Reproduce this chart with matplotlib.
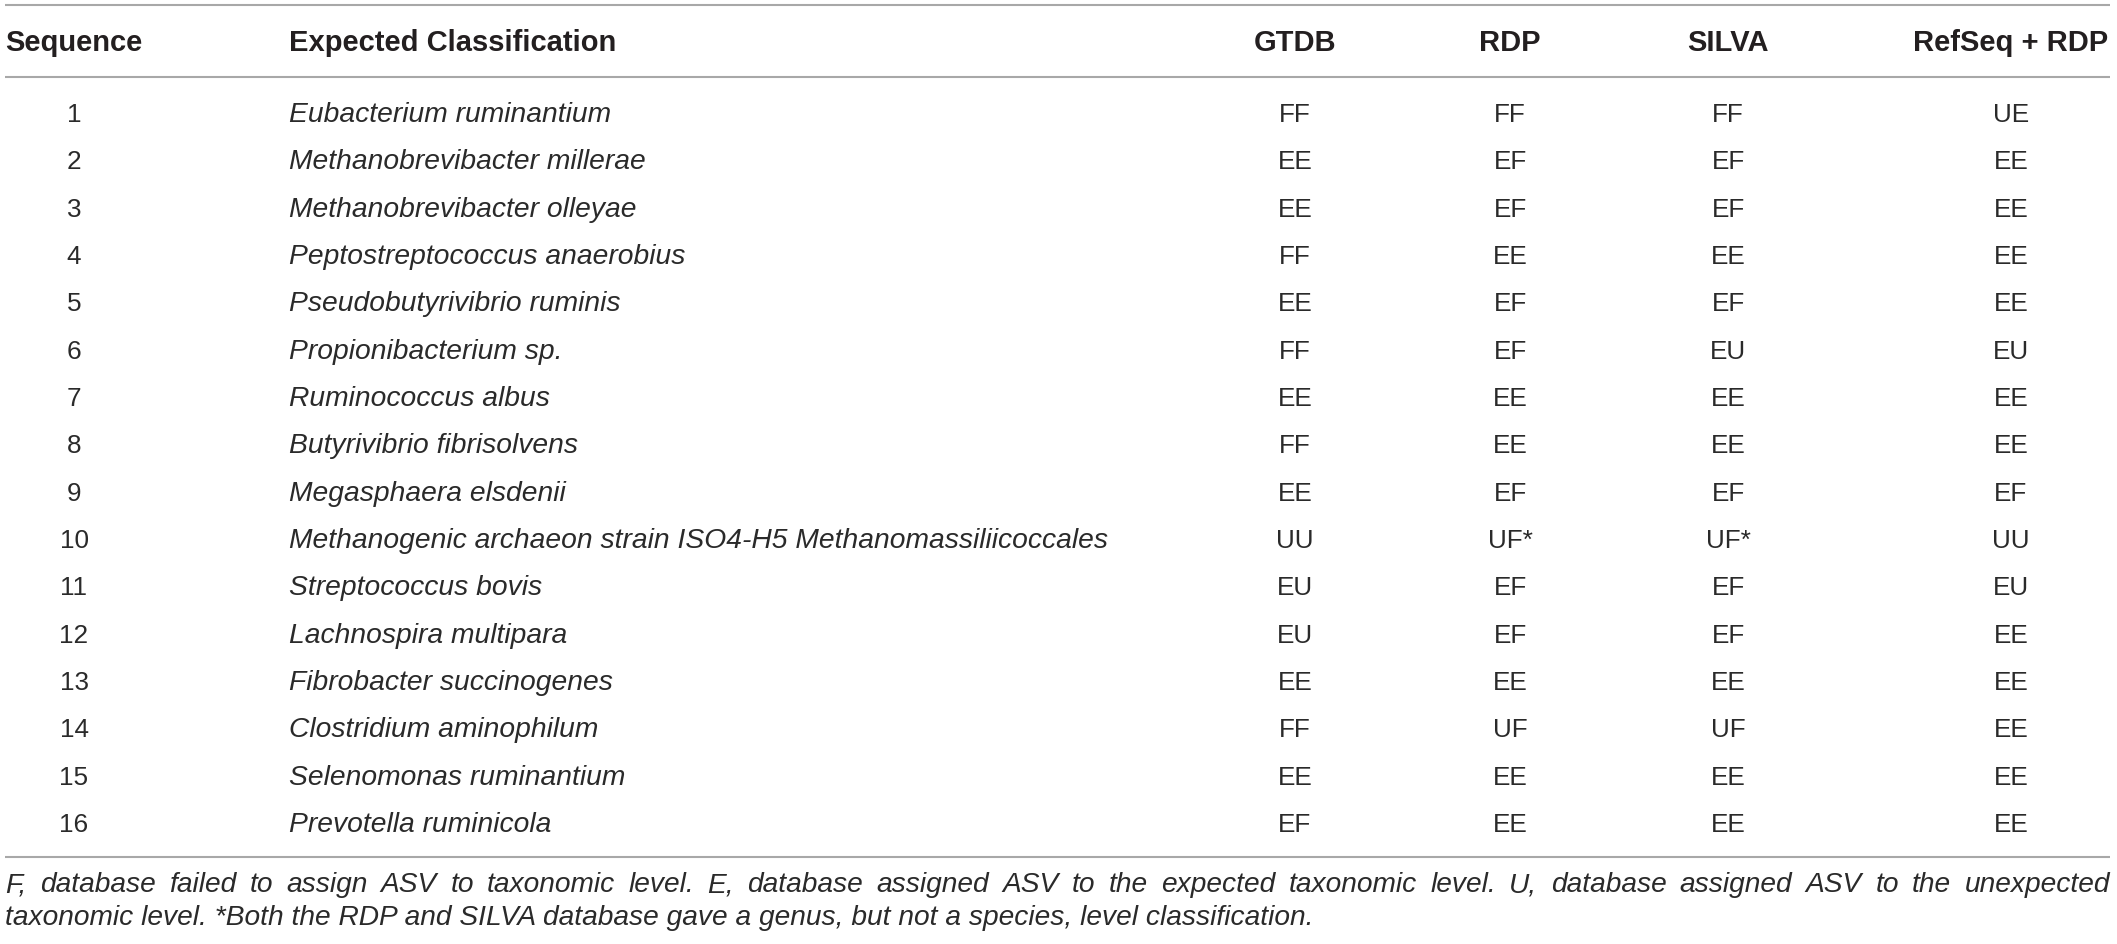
import matplotlib
matplotlib.use("Agg")
import matplotlib.pyplot as plt

# ---------------- data ----------------
columns = ["Sequence", "Expected Classification", "GTDB", "RDP", "SILVA", "RefSeq + RDP"]
sequence_ids = [str(i) for i in range(1, 17)]
expected = [
    "Eubacterium ruminantium",
    "Methanobrevibacter millerae",
    "Methanobrevibacter olleyae",
    "Peptostreptococcus anaerobius",
    "Pseudobutyrivibrio ruminis",
    "Propionibacterium sp.",
    "Ruminococcus albus",
    "Butyrivibrio fibrisolvens",
    "Megasphaera elsdenii",
    "Methanogenic archaeon strain ISO4-H5 Methanomassiliicoccales",
    "Streptococcus bovis",
    "Lachnospira multipara",
    "Fibrobacter succinogenes",
    "Clostridium aminophilum",
    "Selenomonas ruminantium",
    "Prevotella ruminicola",
]
gtdb = ["FF", "EE", "EE", "FF", "EE", "FF", "EE", "FF", "EE", "UU", "EU", "EU", "EE", "FF", "EE", "EF"]
rdp = ["FF", "EF", "EF", "EE", "EF", "EF", "EE", "EE", "EF", "UF*", "EF", "EF", "EE", "UF", "EE", "EE"]
silva = ["FF", "EF", "EF", "EE", "EF", "EU", "EE", "EE", "EF", "UF*", "EF", "EF", "EE", "UF", "EE", "EE"]
refseq_rdp = ["UE", "EE", "EE", "EE", "EE", "EU", "EE", "EE", "EF", "UU", "EU", "EE", "EE", "EE", "EE", "EE"]
footnote_line1 = ("F, database failed to assign ASV to taxonomic level. E, database assigned ASV to the "
                  "expected taxonomic level. U, database assigned ASV to the unexpected")
footnote_line2 = ("taxonomic level. *Both the RDP and SILVA database gave a genus, but not a species, "
                  "level classification.")

# ---------------- layout ----------------
W, H = 2117, 944
TXT = "#231f20"
CELL = "#2a2a2a"
LINE = "#a8a8a8"
FONT = "Liberation Sans"

fig = plt.figure(figsize=(W / 100, H / 100), dpi=100)
ax = fig.add_axes([0, 0, 1, 1])
ax.set_xlim(0, W)
ax.set_ylim(H, 0)
ax.axis("off")
renderer = fig.canvas.get_renderer()


def fit_size(text, base, target, **kw):
    t = ax.text(0, 0, text, fontsize=base, family=FONT, **kw)
    w = t.get_window_extent(renderer).width
    t.remove()
    return base * target / w


x_left, x_right = 5, 2110
for y in (5, 77, 857):
    ax.plot([x_left, x_right], [y, y], color=LINE, lw=1.5, solid_capstyle="butt")

hdr_size = fit_size("Expected Classification", 19.0, 327.0, fontweight="bold")
cell_size = 18.8
name_size = fit_size(expected[9], 18.8, 818.0, style="italic")
foot_size = fit_size(footnote_line2, 18.0, 1305.0, style="italic")

col_x = {"Sequence": 74, "GTDB": 1295, "RDP": 1510, "SILVA": 1728, "RefSeq + RDP": 2011}
name_x = 289
hdr_base = 51

for c in columns:
    if c == "Expected Classification":
        ax.text(name_x, hdr_base, c, ha="left", va="baseline", fontsize=hdr_size,
                fontweight="bold", family=FONT, color=TXT)
    else:
        ax.text(col_x[c], hdr_base, c, ha="center", va="baseline", fontsize=hdr_size,
                fontweight="bold", family=FONT, color=TXT)

row0, pitch = 122, 47.33
for i in range(len(sequence_ids)):
    yb = row0 + i * pitch
    ax.text(col_x["Sequence"], yb, sequence_ids[i], ha="center", va="baseline",
            fontsize=cell_size, family=FONT, color=CELL)
    ax.text(name_x, yb, expected[i], ha="left", va="baseline", fontsize=name_size,
            style="italic", family=FONT, color=CELL)
    for key, vals in (("GTDB", gtdb), ("RDP", rdp), ("SILVA", silva), ("RefSeq + RDP", refseq_rdp)):
        ax.text(col_x[key], yb, vals[i], ha="center", va="baseline",
                fontsize=cell_size, family=FONT, color=CELL)

# footnote: first line justified across the table width
words = footnote_line1.split(" ")
widths = []
for w in words:
    t = ax.text(0, 0, w, fontsize=foot_size, style="italic", family=FONT)
    widths.append(t.get_window_extent(renderer).width)
    t.remove()
gap = (x_right - x_left - sum(widths)) / (len(words) - 1)
x = x_left
for w, wd in zip(words, widths):
    ax.text(x, 892, w, ha="left", va="baseline", fontsize=foot_size, style="italic",
            family=FONT, color=CELL)
    x += wd + gap

ax.text(x_left, 925, footnote_line2, ha="left", va="baseline", fontsize=foot_size,
        style="italic", family=FONT, color=CELL)

fig.savefig("out.png", dpi=100)
